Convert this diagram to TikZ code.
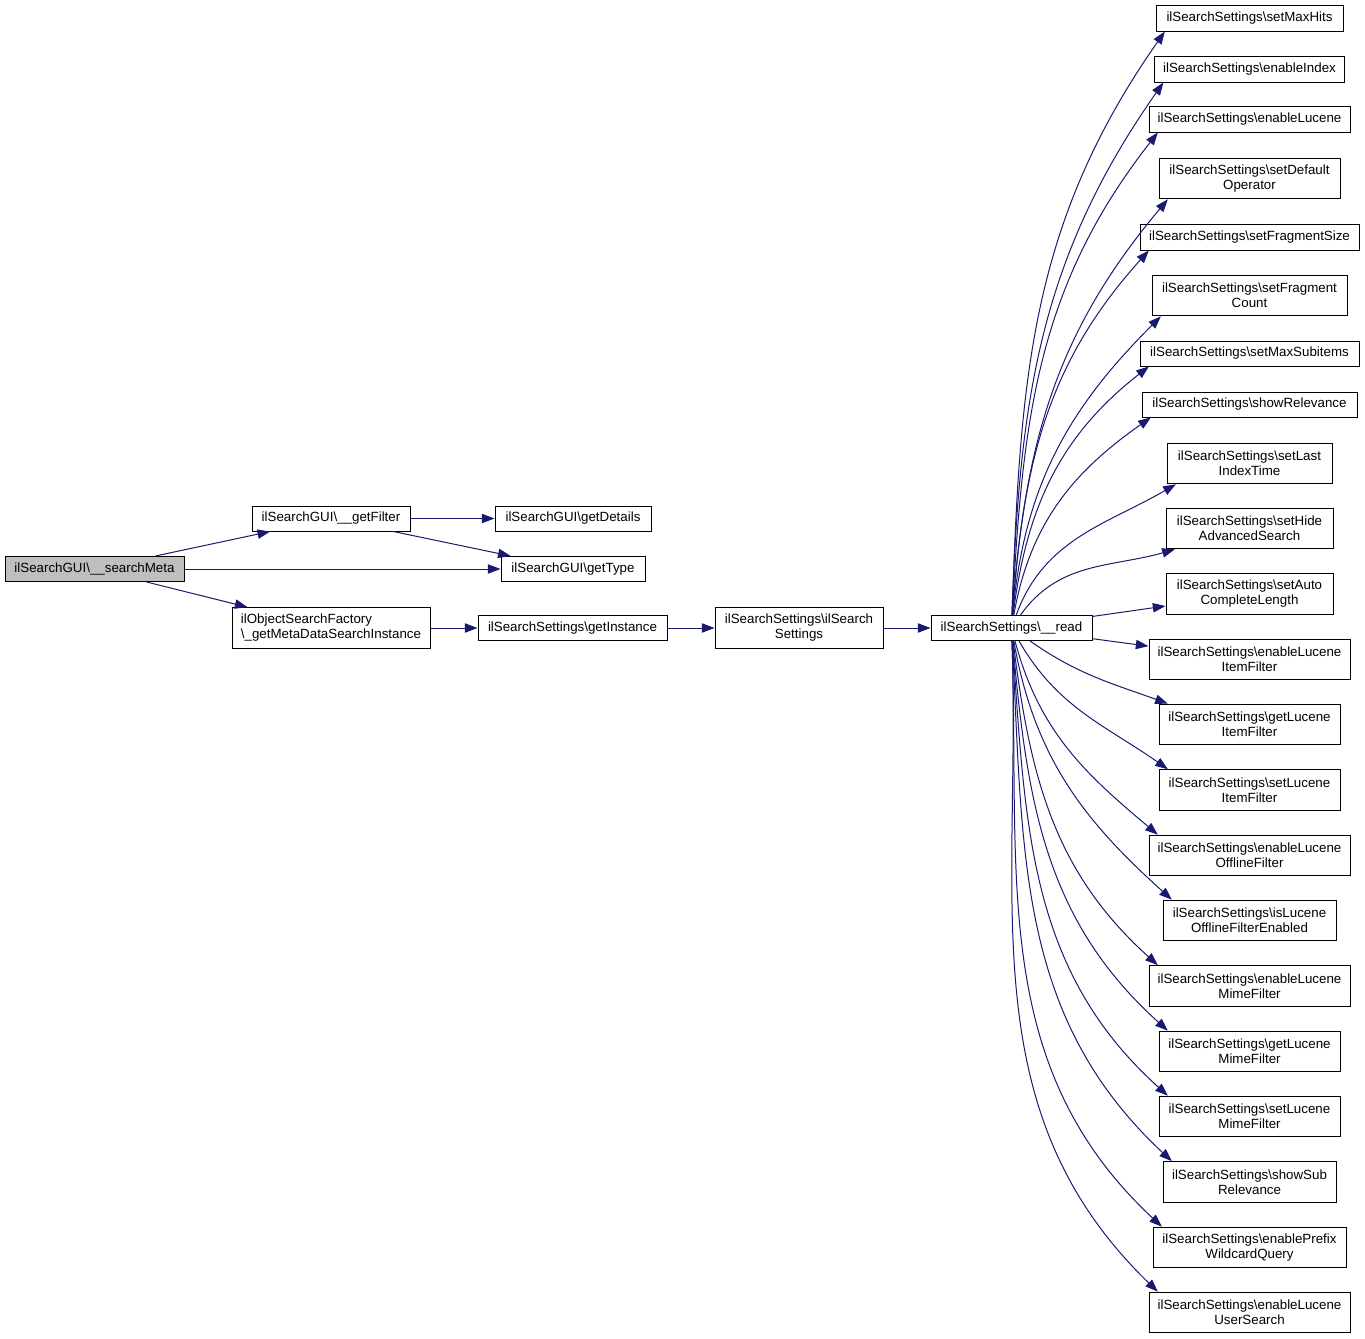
\documentclass[tikz,border=0pt]{standalone}
\usepackage{fontspec}
\setmainfont{Liberation Sans}
\usetikzlibrary{arrows.meta}

\definecolor{edgeblue}{RGB}{25,25,112}
\definecolor{curgray}{RGB}{191,191,191}

\tikzset{
  fn/.style={draw, rectangle, line width=0.75pt, inner sep=0pt, align=center,
    font=\fontsize{10}{11.25}\selectfont, minimum height=18.75pt},
  fn2/.style={fn, minimum height=30.5pt},
  call/.style={draw=edgeblue, line width=0.75pt, -{Triangle[length=9.5pt,width=7pt]}},
}

\begin{document}
\begin{tikzpicture}[x=0.75pt, y=-0.75pt]
  \useasboundingbox (0,0) rectangle (1365,1339);

  % left part of the graph
  \node[fn, fill=curgray, minimum width=134.25pt] (searchMeta) at (94.5,569) {ilSearchGUI\textbackslash\_\_searchMeta};
  \node[fn, minimum width=118.5pt] (getFilter) at (331,518.5) {ilSearchGUI\textbackslash\_\_getFilter};
  \node[fn, minimum width=117pt] (getDetails) at (573,518.5) {ilSearchGUI\textbackslash getDetails};
  \node[fn, minimum width=108pt] (getType) at (573,569) {ilSearchGUI\textbackslash getType};
  \node[fn2, align=left, minimum width=148.5pt] (factory) at (331,628) {ilObjectSearchFactory\\\textbackslash\_getMetaDataSearchInstance};
  \node[fn, minimum width=141.75pt] (getInstance) at (572.5,628) {ilSearchSettings\textbackslash getInstance};
  \node[fn2, minimum width=126pt] (ctor) at (799,628) {ilSearchSettings\textbackslash ilSearch\\Settings};
  \node[fn, minimum width=120.75pt] (read) at (1011.5,628) {ilSearchSettings\textbackslash\_\_read};

  % right column
  \node[fn, minimum width=140.25pt, minimum height=19.5pt] (maxHits) at (1249.5,18) {ilSearchSettings\textbackslash setMaxHits};
  \node[fn, minimum width=142.5pt, minimum height=19.5pt] (enIndex) at (1249.5,69) {ilSearchSettings\textbackslash enableIndex};
  \node[fn, minimum width=150.75pt, minimum height=19.5pt] (enLucene) at (1249.5,119) {ilSearchSettings\textbackslash enableLucene};
  \node[fn2, minimum width=135.75pt] (defOp) at (1249.5,178.5) {ilSearchSettings\textbackslash setDefault\\Operator};
  \node[fn, minimum width=164.25pt, minimum height=19.5pt] (fragSize) at (1249.5,237) {ilSearchSettings\textbackslash setFragmentSize};
  \node[fn2, minimum width=146.25pt] (fragCount) at (1249.5,295.5) {ilSearchSettings\textbackslash setFragment\\Count};
  \node[fn, minimum width=164.25pt] (maxSub) at (1249.5,353.5) {ilSearchSettings\textbackslash setMaxSubitems};
  \node[fn, minimum width=161.25pt] (showRel) at (1249.5,404.5) {ilSearchSettings\textbackslash showRelevance};
  \node[fn2, minimum width=123.75pt] (lastIdx) at (1249.5,463.5) {ilSearchSettings\textbackslash setLast\\IndexTime};
  \node[fn2, minimum width=125.25pt] (hideAdv) at (1249.5,528.5) {ilSearchSettings\textbackslash setHide\\AdvancedSearch};
  \node[fn2, minimum width=125.25pt] (autoLen) at (1249.5,594) {ilSearchSettings\textbackslash setAuto\\CompleteLength};
  \node[fn2, minimum width=150.75pt] (enItem) at (1249.5,659.5) {ilSearchSettings\textbackslash enableLucene\\ItemFilter};
  \node[fn2, minimum width=135.75pt] (getItem) at (1249.5,724.5) {ilSearchSettings\textbackslash getLucene\\ItemFilter};
  \node[fn2, minimum width=135.75pt] (setItem) at (1249.5,790) {ilSearchSettings\textbackslash setLucene\\ItemFilter};
  \node[fn2, minimum width=150.75pt] (enOffline) at (1249.5,855.5) {ilSearchSettings\textbackslash enableLucene\\OfflineFilter};
  \node[fn2, minimum width=129.75pt] (isOffline) at (1249.5,920.5) {ilSearchSettings\textbackslash isLucene\\OfflineFilterEnabled};
  \node[fn2, minimum width=150.75pt] (enMime) at (1249.5,986) {ilSearchSettings\textbackslash enableLucene\\MimeFilter};
  \node[fn2, minimum width=135.75pt] (getMime) at (1249.5,1051.5) {ilSearchSettings\textbackslash getLucene\\MimeFilter};
  \node[fn2, minimum width=135.75pt] (setMime) at (1249.5,1116.5) {ilSearchSettings\textbackslash setLucene\\MimeFilter};
  \node[fn2, minimum width=129.75pt] (subRel) at (1249.5,1182) {ilSearchSettings\textbackslash showSub\\Relevance};
  \node[fn2, minimum width=144.75pt] (prefix) at (1249.5,1247.5) {ilSearchSettings\textbackslash enablePrefix\\WildcardQuery};
  \node[fn2, minimum width=150.75pt] (userSearch) at (1249.5,1312.5) {ilSearchSettings\textbackslash enableLucene\\UserSearch};

  % calls
  \draw[call] (searchMeta) -- (getFilter);
  \draw[call] (searchMeta) -- (getType);
  \draw[call] (searchMeta) -- (factory);
  \draw[call] (getFilter) -- (getDetails);
  \draw[call] (getFilter) -- (getType);
  \draw[call] (factory) -- (getInstance);
  \draw[call] (getInstance) -- (ctor);
  \draw[call] (ctor) -- (read);

  \foreach \n/\o/\i in {maxHits/88/235, enIndex/88/235, enLucene/87/232, defOp/86/230,
      fragSize/86/228, fragCount/85/225, maxSub/83/218, showRel/80/215, lastIdx/70/210, hideAdv/55/196}
    \draw[call] (read) to[out=\o, in=\i] ([xshift=7pt]\n.south west);
  \draw[call] (read) -- (autoLen);
  \draw[call] (read) -- (enItem);
  \foreach \n/\o/\i in {getItem/-35/160, setItem/-60/145, enOffline/-75/140, isOffline/-80/138,
      enMime/-83/138, getMime/-85/138, setMime/-86/138, subRel/-87/137, prefix/-88/137, userSearch/-88/136}
    \draw[call] (read) to[out=\o, in=\i] ([xshift=7pt]\n.north west);
\end{tikzpicture}
\end{document}
